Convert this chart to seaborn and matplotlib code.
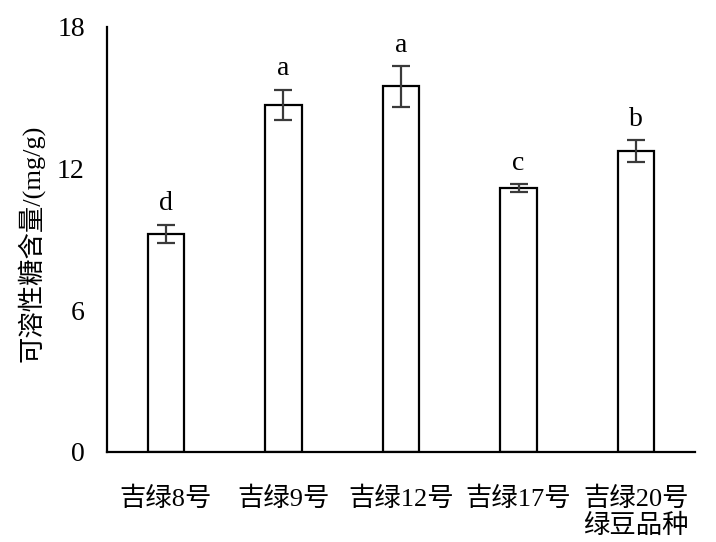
import matplotlib
matplotlib.use("Agg")
import matplotlib.pyplot as plt
import seaborn as sns
import pandas as pd

categories = ["吉绿8号", "吉绿9号", "吉绿12号", "吉绿17号", "吉绿20号"]
sugar = [9.22, 14.68, 15.47, 11.17, 12.74]
sugar_err = [0.40, 0.65, 0.87, 0.15, 0.46]
letters = ["d", "a", "a", "c", "b"]
y_ticks = [0, 6, 12, 18]
y_label = "可溶性糖含量/(mg/g)"
x_label = "绿豆品种"

sns.set_theme(style="white")
plt.rcParams["font.family"] = ["Liberation Serif", "Noto Sans CJK SC", "DejaVu Sans"]
plt.rcParams["text.color"] = "black"
plt.rcParams["axes.labelcolor"] = "black"
plt.rcParams["xtick.color"] = "black"
plt.rcParams["ytick.color"] = "black"

df = pd.DataFrame({"cat": categories, "val": sugar})

fig = plt.figure(figsize=(7.16, 5.42), dpi=100)
ax = fig.add_axes([0.1494, 0.1666, 0.8213, 0.7841])

sns.barplot(data=df, x="cat", y="val", ax=ax, color="white", edgecolor="black",
            linewidth=1.6, width=0.31, errorbar=None, saturation=1)

xs = list(range(len(categories)))
ax.errorbar(xs, sugar, yerr=sugar_err, fmt="none", ecolor="#3a3a3a",
            elinewidth=1.6, capsize=6.5, capthick=1.6, zorder=5)

for x, v, e, t in zip(xs, sugar, sugar_err, letters):
    ax.annotate(t, (x, v + e), xytext=(0, 6), textcoords="offset points",
                ha="center", va="bottom", fontsize=20, color="black")

ax.set_xlim(-0.5, len(categories) - 0.5)
ax.set_ylim(0, 18)
ax.set_yticks(y_ticks)
ax.set_yticklabels([str(t) for t in y_ticks], fontsize=20)

ax.set_xticks(xs)
ax.set_xticklabels(categories, fontsize=19)
ax.tick_params(axis="x", which="major", length=0, pad=25)
ax.set_xticks([i + 0.5 for i in range(-1, len(categories))], minor=True)
ax.tick_params(axis="x", which="minor", direction="in", length=7, width=1.6, color="black")
ax.tick_params(axis="y", direction="in", length=7, width=1.6, color="black", pad=16)

for s in ["top", "right"]:
    ax.spines[s].set_visible(False)
for s in ["left", "bottom"]:
    ax.spines[s].set_color("black")
    ax.spines[s].set_linewidth(1.6)

ax.set_ylabel(y_label, fontsize=19)
ax.yaxis.set_label_coords(-0.107, 0.49)
ax.set_xlabel(x_label, fontsize=19)
ax.xaxis.set_label_coords(0.9, -0.145)
ax.xaxis.label.set_va("top")

fig.savefig("out.png", dpi=100, facecolor="white")
